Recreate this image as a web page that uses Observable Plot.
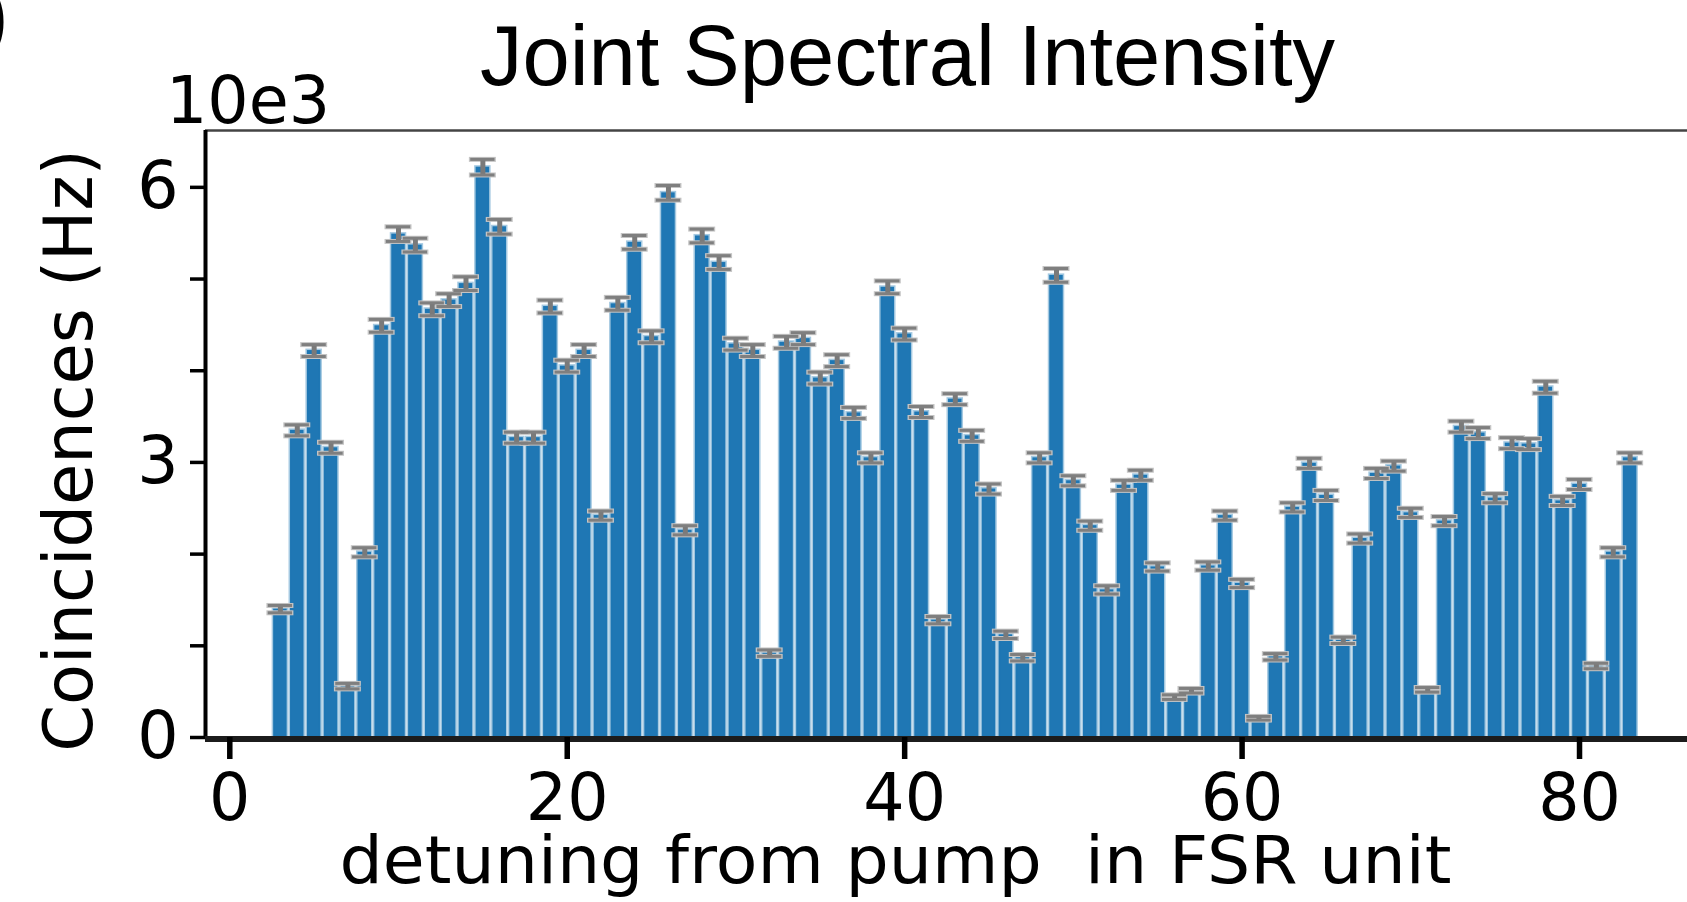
<!DOCTYPE html>
<html>
<head>
<meta charset="utf-8">
<script src="https://cdn.jsdelivr.net/npm/d3@7"></script>
<script src="https://cdn.jsdelivr.net/npm/@observablehq/plot@0.6"></script>
<style>
  html, body { margin: 0; padding: 0; background: #fff; }
  #chart { width: 1687px; height: 902px; overflow: hidden; }
  #chart svg { display: block; }
</style>
</head>
<body>
<div id="chart"></div>
<script>
// Detuning from the pump, in units of the free spectral range
const detuning = [
   3,  4,  5,  6,  7,  8,  9, 10, 11, 12, 13, 14, 15, 16, 17, 18, 19, 20, 21, 22,
  23, 24, 25, 26, 27, 28, 29, 30, 31, 32, 33, 34, 35, 36, 37, 38, 39, 40, 41, 42,
  43, 44, 45, 46, 47, 48, 49, 50, 51, 52, 53, 54, 55, 56, 57, 58, 59, 60, 61, 62,
  63, 64, 65, 66, 67, 68, 69, 70, 71, 72, 73, 74, 75, 76, 77, 78, 79, 80, 81, 82,
  83
];

// Coincidence rate (axis units of 10e3 Hz)
const coincidences = [
  1.40, 3.35, 4.22, 3.16, 0.56, 2.02, 4.49, 5.49, 5.37, 4.67, 4.77, 4.95, 6.22, 5.57, 3.27, 3.27, 4.70, 4.05, 4.22, 2.42,
  4.73, 5.40, 4.37, 5.94, 2.26, 5.47, 5.18, 4.29, 4.22, 0.92, 4.31, 4.35, 3.92, 4.11, 3.54, 3.05, 4.91, 4.40, 3.55, 1.28,
  3.69, 3.29, 2.71, 1.12, 0.87, 3.05, 5.04, 2.80, 2.31, 1.61, 2.75, 2.86, 1.86, 0.44, 0.51, 1.87, 2.42, 1.68, 0.21, 0.88,
  2.51, 2.99, 2.64, 1.06, 2.17, 2.88, 2.96, 2.45, 0.52, 2.36, 3.39, 3.32, 2.61, 3.21, 3.20, 3.82, 2.58, 2.76, 0.78, 2.02,
  3.05
];

// Uncertainty on each rate (same units)
const errors = [
  0.040, 0.060, 0.065, 0.060, 0.030, 0.050, 0.070, 0.080, 0.075, 0.070, 0.070, 0.075, 0.085, 0.080, 0.060, 0.060, 0.070, 0.065, 0.065, 0.050,
  0.070, 0.075, 0.065, 0.080, 0.050, 0.075, 0.075, 0.065, 0.065, 0.035, 0.065, 0.065, 0.065, 0.065, 0.060, 0.055, 0.070, 0.065, 0.060, 0.040,
  0.060, 0.060, 0.055, 0.040, 0.035, 0.055, 0.075, 0.055, 0.050, 0.045, 0.055, 0.055, 0.045, 0.025, 0.025, 0.045, 0.050, 0.045, 0.020, 0.035,
  0.050, 0.055, 0.055, 0.035, 0.050, 0.055, 0.055, 0.050, 0.025, 0.050, 0.060, 0.060, 0.050, 0.060, 0.060, 0.065, 0.050, 0.055, 0.030, 0.050,
  0.055
];

const xTicks = [0, 20, 40, 60, 80];
const yTicks = [0, 1, 2, 3, 4, 5, 6];
const yTickLabels = [0, 3, 6];

const titleText = "Joint Spectral Intensity";
const xLabel = "detuning from pump  in FSR unit";
const yLabel = "Coincidences (Hz)";
const offsetText = "10e3";

const rows = detuning.map((d, i) => ({d, v: coincidences[i], e: errors[i]}));

const xDomain = [-1.44, 86.4];
const yDomain = [0, 6.62];
const barHalf = 0.4;
const capHalf = 0.8;

const chart = Plot.plot({
  width: 1687,
  height: 902,
  marginTop: 130,
  marginBottom: 165,
  marginLeft: 205,
  marginRight: 0,
  style: {background: "#fff", color: "#000", fontFamily: "'DejaVu Sans', sans-serif", overflow: "hidden"},
  x: {domain: xDomain},
  y: {domain: yDomain},
  marks: [
    // bars
    Plot.rectY(rows, {
      x1: r => r.d - barHalf, x2: r => r.d + barHalf, y1: 0, y2: "v",
      fill: "#1f77b4", stroke: "#1f77b4", strokeOpacity: 0.4, strokeWidth: 3
    }),
    // error bars: soft halo caps, then stem and caps in gray
    Plot.ruleY(rows, {y: r => r.v + r.e, x1: r => r.d - capHalf, x2: r => r.d + capHalf, stroke: "#c4c4c4", strokeWidth: 5}),
    Plot.ruleY(rows, {y: r => r.v - r.e, x1: r => r.d - capHalf, x2: r => r.d + capHalf, stroke: "#c4c4c4", strokeWidth: 5}),
    Plot.ruleX(rows, {x: "d", y1: r => r.v - r.e, y2: r => r.v + r.e, stroke: "#7a7a7a", strokeWidth: 5}),
    Plot.ruleY(rows, {y: r => r.v + r.e, x1: r => r.d - capHalf * 0.9, x2: r => r.d + capHalf * 0.9, stroke: "#7f7f7f", strokeWidth: 3}),
    Plot.ruleY(rows, {y: r => r.v - r.e, x1: r => r.d - capHalf * 0.9, x2: r => r.d + capHalf * 0.9, stroke: "#7f7f7f", strokeWidth: 3}),

    // spines
    Plot.ruleY([yDomain[1]], {stroke: "#444", strokeWidth: 2.4}),
    Plot.ruleX([xDomain[0]], {stroke: "#000", strokeWidth: 4}),
    Plot.ruleY([0], {stroke: "#1c1c1c", strokeWidth: 6, dy: 1.5}),

    // axes
    Plot.axisY(yTicks, {
      tickSize: 15, tickPadding: 12, strokeWidth: 3.5, fontSize: 65,
      tickFormat: t => yTickLabels.includes(t) ? String(t) : "", label: null
    }),
    Plot.axisX(xTicks, {
      tickSize: 22, tickPadding: 14, strokeWidth: 5.5, fontSize: 65, label: null
    }),

    // axis titles and annotations
    Plot.text([yLabel], {
      frameAnchor: "top-left", dx: -135, dy: 320, rotate: -90,
      textAnchor: "middle", lineAnchor: "middle", fontSize: 67
    }),
    Plot.text([xLabel], {
      frameAnchor: "bottom-left", dx: 690, dy: 145,
      textAnchor: "middle", lineAnchor: "bottom", fontSize: 65
    }),
    Plot.text([offsetText], {
      frameAnchor: "top-left", dx: -39.5, dy: -7.5,
      textAnchor: "start", lineAnchor: "bottom", fontSize: 65
    }),
    Plot.text([titleText], {
      frameAnchor: "top-left", dx: 702, dy: -46,
      textAnchor: "middle", lineAnchor: "bottom", fontSize: 85,
      fontFamily: "'Liberation Sans', Arial, sans-serif"
    }),
    Plot.text([")"], {
      frameAnchor: "top-left", dx: -225, dy: -87,
      textAnchor: "start", lineAnchor: "bottom", fontSize: 85,
      fontFamily: "'Liberation Sans', Arial, sans-serif"
    })
  ]
});

// give the x-axis title its full run under the axis
d3.select(chart).selectAll("text")
  .filter(function () { return this.textContent === xLabel; })
  .attr("textLength", 1112)
  .attr("lengthAdjust", "spacingAndGlyphs");

document.getElementById("chart").appendChild(chart);
</script>
</body>
</html>
